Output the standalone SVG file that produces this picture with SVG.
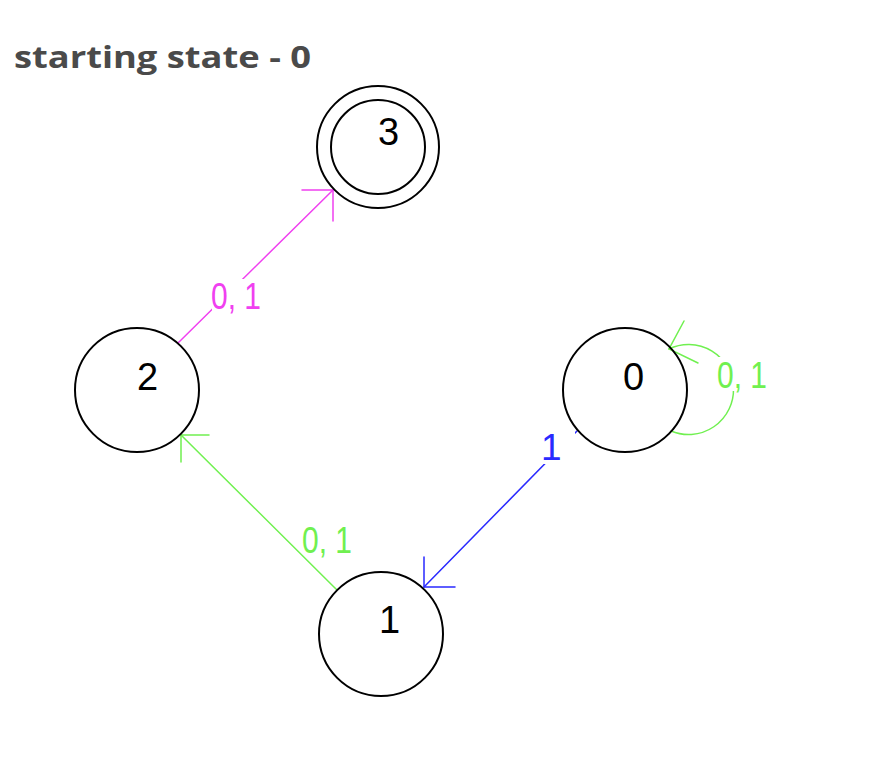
<svg xmlns="http://www.w3.org/2000/svg" width="874" height="784" viewBox="0 0 874 784">
<style>
.state{fill:none;stroke:#000;stroke-width:2}
.sl{font-family:"Liberation Sans",Arial,sans-serif;font-size:38px;fill:#000}
.el{font-family:"Liberation Sans",Arial,sans-serif;font-size:37px}
.bg{fill:#fff}
.e{fill:none;stroke-width:1.5;stroke-linecap:round}
.mag{stroke:#f040f0}.magt{fill:#f040f0}
.grn{stroke:#70f050}.grnt{fill:#70f050}
.blu{stroke:#2a2aff}.blut{fill:#2a2aff}
.title{font-family:"Open Sans","Noto Sans","DejaVu Sans",sans-serif;font-weight:bold;font-size:30px;fill:#4a4a4a}
</style>
<rect width="874" height="784" fill="#fff"/>
<text class="title" x="14" y="68" textLength="297" lengthAdjust="spacingAndGlyphs">starting state - 0</text>
<g id="connectors">
  <g id="e-2-3">
    <line class="e mag" x1="178" y1="343" x2="333" y2="190"/>
    <path class="e mag" d="M302 190 L333 190 L333 221"/>
    <rect class="bg" x="212" y="279" width="51" height="34"/>
    <text class="el magt" x="211" y="309" textLength="50" lengthAdjust="spacingAndGlyphs">0, 1</text>
  </g>
  <g id="e-1-2">
    <line class="e grn" x1="337" y1="590" x2="181" y2="435"/>
    <path class="e grn" d="M209 435 L181 435 L181 462"/>
    <rect class="bg" x="302" y="523" width="54" height="31"/>
    <text class="el grnt" x="302" y="553" textLength="50" lengthAdjust="spacingAndGlyphs">0, 1</text>
  </g>
  <g id="e-0-1">
    <line class="e blu" x1="577" y1="431" x2="424" y2="587"/>
    <path class="e blu" d="M455 587 L424 587 L424 557"/>
    <rect class="bg" x="541" y="428" width="34" height="36"/>
    <text class="el blut" x="541" y="460">1</text>
  </g>
  <g id="e-0-0">
    <path class="e grn" d="M671 431 A45 45 0 1 0 669 349"/>
    <path class="e grn" d="M684 321 L669 349 L698 363"/>
    <rect class="bg" x="716" y="357" width="54" height="34"/>
    <text class="el grnt" x="717" y="388" textLength="50" lengthAdjust="spacingAndGlyphs">0, 1</text>
  </g>
</g>
<g id="node-3">
  <circle class="state" cx="378" cy="147" r="61"/>
  <circle class="state" cx="378" cy="147" r="47"/>
  <text class="sl" x="378" y="145">3</text>
</g>
<g id="node-2">
  <circle class="state" cx="137" cy="390" r="62"/>
  <text class="sl" x="137" y="390">2</text>
</g>
<g id="node-0">
  <circle class="state" cx="625" cy="390" r="62"/>
  <text class="sl" x="623" y="390">0</text>
</g>
<g id="node-1">
  <circle class="state" cx="381" cy="634" r="62"/>
  <text class="sl" x="379" y="633">1</text>
</g>
</svg>
